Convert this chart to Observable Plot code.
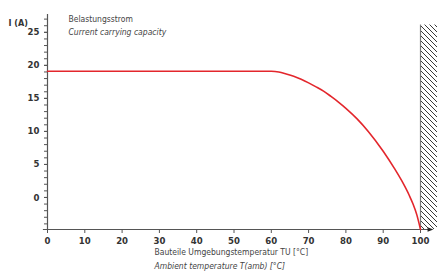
<!DOCTYPE html>
<html>
<head>
<meta charset="utf-8">
<script src="https://cdn.jsdelivr.net/npm/d3@7"></script>
<script src="https://cdn.jsdelivr.net/npm/@observablehq/plot@0.6"></script>
<style>
  html, body { margin: 0; padding: 0; background: #fff; }
  body { width: 437px; height: 278px; overflow: hidden; }
  svg text { font-stretch: condensed; }
</style>
</head>
<body>
<div id="chart"></div>
<script>
// Data
const temps    = [0, 30, 60, 62, 64, 66, 68, 70, 72, 74, 76, 78, 80, 83, 86, 90, 93, 95, 97, 98, 99, 100];
const currents = [19.1, 19.1, 19.1, 19.0, 18.7, 18.35, 17.9, 17.35, 16.75, 16.1, 15.3, 14.45, 13.5, 11.9, 10.0, 7.0, 4.4, 2.5, 0.3, -1.0, -2.6, -4.85];
const xTicks = [0, 10, 20, 30, 40, 50, 60, 70, 80, 90, 100];
const yMajor = [0, 5, 10, 15, 20, 25];
const yMinor = d3.range(-4, 28, 1);
const yDomain = [-4.85, 27.7];
const hatchX = [100, 104.7];
const hatchTop = 26.1;
const arrowX = 102.6;
const yLabel = "I (A)";
const titleDe = "Belastungsstrom";
const titleEn = "Current carrying capacity";
const xTitleDe = "Bauteile Umgebungstemperatur TU [°C]";
const xTitleEn = "Ambient temperature T(amb) [°C]";

const data = temps.map((t, i) => ({t, i: currents[i]}));
const font = "'DejaVu Sans Condensed', 'DejaVu Sans', sans-serif";
const ink = "#444";

const rightTriangle = {
  draw(context, size) {
    const r = Math.sqrt(size) / 2;
    context.moveTo(r * 1.2, 0);
    context.lineTo(-r, -r * 0.8);
    context.lineTo(-r, r * 0.8);
    context.closePath();
  }
};

const chart = Plot.plot({
  width: 437,
  height: 278,
  marginLeft: 47,
  marginRight: 17,
  marginTop: 14,
  marginBottom: 49,
  style: {fontFamily: font, background: "#fff", color: ink, fontSize: "10px"},
  x: {domain: [0, 100], axis: null},
  y: {domain: yDomain, axis: null},
  marks: [
    // hatched region
    Plot.rect([0], {x1: hatchX[0], x2: hatchX[1], y1: yDomain[0], y2: hatchTop, fill: "url(#hatch)"}),
    Plot.ruleX([hatchX[0]], {y1: yDomain[0], y2: hatchTop, stroke: "#777", strokeWidth: 1.2}),
    // y axis
    Plot.ruleX([0], {y1: yDomain[0], y2: yDomain[1], stroke: "#555", strokeWidth: 1.2}),
    Plot.axisY({ticks: yMinor, tickSize: 3, tickFormat: () => "", stroke: "#555", label: null}),
    Plot.axisY({ticks: yMajor, tickSize: 3, tickPadding: 5, stroke: "#555", fill: "#333", fontWeight: "bold", fontSize: 9.5, label: null}),
    // x axis
    Plot.ruleY([yDomain[0]], {x1: -1.1, x2: arrowX, stroke: "#555", strokeWidth: 1.2}),
    Plot.axisX({ticks: xTicks, tickSize: 4, tickPadding: 4, stroke: "#555", fill: "#333", fontWeight: "bold", fontSize: 9.5, label: null}),
    Plot.dot([arrowX], {x: d => d, y: yDomain[0], symbol: rightTriangle, r: 3, fill: "#222", stroke: null}),
    // curve
    Plot.line(data, {x: "t", y: "i", stroke: "#e3262c", strokeWidth: 1.6, curve: "monotone-x"}),
    // texts
    Plot.text([yLabel], {frameAnchor: "top-left", dx: -39, dy: 5, textAnchor: "start", fill: "#333", fontWeight: "bold", fontSize: 9}),
    Plot.text([titleDe], {frameAnchor: "top-left", dx: 21, dy: 1, textAnchor: "start", fill: ink, fontSize: 8.5}),
    Plot.text([titleEn], {frameAnchor: "top-left", dx: 21, dy: 14, textAnchor: "start", fill: ink, fontSize: 8.5, fontStyle: "italic"}),
    Plot.text([xTitleDe], {frameAnchor: "bottom-left", dx: 107, dy: 25, textAnchor: "start", fill: ink, fontSize: 8.5}),
    Plot.text([xTitleEn], {frameAnchor: "bottom-left", dx: 107, dy: 39, textAnchor: "start", fill: ink, fontSize: 8.5, fontStyle: "italic"})
  ]
});

// hatch pattern definition
const ns = "http://www.w3.org/2000/svg";
const defs = document.createElementNS(ns, "defs");
defs.innerHTML = `<pattern id="hatch" patternUnits="userSpaceOnUse" width="5" height="5">
  <path d="M-1,-1 L6,6 M-1,4 L1,6 M4,-1 L6,1" stroke="#222" stroke-width="0.9"/>
</pattern>`;
chart.insertBefore(defs, chart.firstChild);
document.getElementById("chart").appendChild(chart);
</script>
</body>
</html>
